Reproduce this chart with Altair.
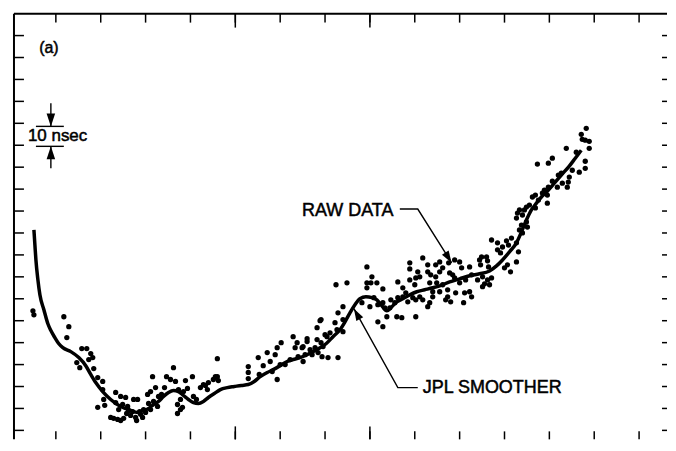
import altair as alt
import pandas as pd

# x: days after the first tick mark (ticks every 45 days); y: clock offset in nsec
raw_early = [(-23,64.5),(-22,62.7),(8,61.8),(13,57.3),(11,52.3),(26,47.3),(31,47.3),(35,45.0),(37,43.2),
    (33,42.3),(21,40.9),(24,38.6),(38,38.2),(42,34.1),(47,32.3),(47,28.6),(48,24.1),(42,20.5),(49,21.4),
    (60,27.3),(65,25.5),(70,25.0),(60,22.7),(55,15.9),(58,15.5),(62,15.0),(65,14.5),(68,15.5),(72,20.9),
    (78,24.1),(82,24.1),(77,18.6),(80,15.9),(81,14.5),(85,17.3),(88,19.5),(92,26.4),(95,27.7),(97,34.5),
    (100,29.5),(102,20.9),(98,23.2),(93,22.3),(90,18.2),(73,19.1),(67,21.8),(63,19.5),(71,17.7),(75,16.8),
    (84,18.6),(87,15.9),(95,19.5),(103,25.5),(106,26.4)]
raw_dip = [(111,34.5),(115,33.2),(118,38.6),(120,32.3),(109,29.5),(123,28.6),(128,27.7),(132,29.1),
    (130,32.7),(125,24.1),(127,20.5),(122,21.8),(122,17.7),(125,19.5),(137,34.5),(138,25.5),(141,24.1),
    (145,29.5),(148,30.9),(153,31.8),(150,30.5),(152,28.6),(158,33.2),(162,34.5),(163,32.7),(160,34.5),
    (162,42.7)]
raw_rise = [(193,39.1),(193,36.4),(193,33.6),(203,43.2),(204,35.5),(208,39.5),(212,45.5),(215,41.4),
    (217,36.8),(220,44.5),(222,47.7),(226,50.0),(222,33.2),(225,40.0),(238,52.7),(240,47.7),(242,50.0),
    (247,47.7),(252,50.5),(248,41.4),(257,44.5),(262,56.8),(265,60.0),(262,51.4),(263,45.5),(266,50.0),
    (270,53.6),(275,54.5),(273,43.2),(267,43.6),(280,59.1),(283,63.6),(230,40.0),(235,42.3),(243,43.6),
    (250,44.5),(255,46.8),(260,47.7),(268,48.2),(252,51.8),(248,48.2)]
raw_bump = [(282,55.9),(288,66.4),(288,60.5),(288,55.0),(292,77.3),(281,76.4),(307,68.2),(312,84.5),
    (317,80.0),(312,77.3),(316,77.3),(322,77.3),(312,75.0),(328,74.5),(315,66.4),(319,70.5),(323,67.3),
    (323,59.5),(328,57.3),(330,65.9),(335,65.9),(336,69.5),(343,70.5),(340,68.2),(328,68.2),(332,61.8),
    (342,61.8),(343,77.7),(283,43.2),(266,60.5),(272,52.7)]
raw_plateau = [(348,75.0),(348,70.9),(347,61.4),(351,72.7),(353,68.6),(355,86.4),(355,83.6),(355,78.6),
    (358,70.5),(360,76.4),(361,79.5),(361,69.5),(361,61.8),(363,82.3),(365,80.0),(365,70.9),(368,88.6),
    (368,69.5),(373,85.5),(373,82.3),(373,66.4),(376,80.9),(378,73.2),(378,70.9),(381,85.5),(381,80.0),
    (382,77.3),(385,82.3),(385,73.2),(385,86.8),(388,84.1),(388,76.4),(391,69.5),(393,74.1),(393,70.9),
    (394,86.4),(395,81.8),(396,68.6),(398,80.9),(400,87.7),(400,79.5),(401,72.7),(405,86.8),(405,77.3),
    (375,77.3),(375,68.2)]
raw_loop = [(411,78.6),(407,84.1),(409,68.2),(410,72.7),(415,73.2),(415,84.5),(417,80.9),(417,70.9),
    (423,78.6),(425,87.7),(427,89.1),(432,89.1),(428,80.0),(428,75.5),(433,78.6),(433,87.3),(434,84.5),
    (435,76.4),(426,85.5),(437,96.8),(443,95.5),(443,92.3),(446,90.9),(448,93.6),(450,84.1),(452,96.4),
    (453,85.5),(454,94.5),(456,82.3),(457,97.7),(462,95.5),(462,86.8),(464,91.4),(437,79.5),(430,76.8)]
raw_late = [(462,106.8),(463,109.1),(465,110.5),(465,101.4),(467,103.6),(468,108.2),(468,100.0),
    (470,110.5),(472,111.8),(472,105.0),(473,102.7),(475,112.7),(478,116.4),(481,117.3),(481,111.4),
    (483,131.4),(484,115.0),(488,118.2),(490,119.5),(493,117.3),(493,113.6),(494,131.8),(498,134.1),
    (494,120.9),(498,123.6),(503,120.9),(504,126.4),(508,122.7),(512,138.6),(513,120.9),(514,123.2),
    (515,125.5),(518,128.6),(522,136.8),(525,127.7),(527,145.0),(528,142.7),(531,142.3),(535,141.8),
    (531,132.7),(531,129.5),(532,147.7),(535,138.6),(507,127.3)]

smooth_days = [-22,-21,-20,-18,-16,-12,-8,-5,-1,3,7,15,23,30,35,40,47,55,65,75,82,88,93,98,103,108,113,
    118,123,128,133,138,143,148,153,159,165,172,179,186,193,199,205,212,218,225,232,238,245,252,258,265,
    271,278,285,290,295,300,305,311,317,322,327,332,337,342,348,355,362,370,378,385,395,405,415,425,435,
    442,448,455,462,467,472,477,482,487,492,500,507,515,521,527]
smooth_nsec = [101.4,94.5,87.7,78.6,71.8,65.0,58.6,55.5,52.3,49.5,47.7,45.9,43.2,39.5,35.5,31.8,27.7,
    24.1,20.9,19.1,18.2,19.1,20.0,21.8,23.2,25.5,27.3,28.2,27.7,25.9,24.1,22.7,22.3,23.2,25.0,26.8,28.6,
    29.5,30.0,30.5,30.9,32.3,34.5,36.4,37.7,39.5,41.4,42.3,43.2,44.5,45.9,47.7,49.5,52.7,55.9,59.5,63.6,
    67.3,70.0,70.9,70.5,69.5,66.8,64.5,66.4,68.6,70.0,71.8,73.2,74.1,75.0,75.9,77.7,79.1,80.5,81.4,82.7,
    85.0,87.7,91.4,95.5,100.5,105.9,110.5,113.6,116.4,118.6,122.7,126.4,130.5,134.1,137.7]

x_ticks = [0, 45, 90, 135, 180, 225, 270, 315, 360, 405, 450, 495, 540, 585]
x_long_ticks = [180, 315]
y_ticks = [10, 20, 30, 40, 50, 60, 70, 80, 90, 100, 110, 120, 130, 140, 150, 160, 170, 180, 190]

# annotations
labels = ["(a)", "10 nsec", "RAW DATA", "JPL SMOOTHER"]
label_days = [-7, -28, 247, 368]
label_nsec = [184.1, 144.1, 110.0, 29.5]
label_align = ["center", "left", "left", "left"]
label_size = [16, 17, 18, 18]

raw_leader = [(345, 110.9), (363, 110.9), (397, 86.4)]
jpl_leader = [(299, 65.5), (343, 29.5), (363, 29.5)]
bar_days = [-20, 8]
bar_nsec = [148.6, 139.5]
bar_arrow_top = [(-5, 159.1), (-5, 148.6)]
bar_arrow_bottom = [(-5, 129.5), (-5, 139.5)]
arrow_tips = [(397, 86.4, 147.8, 576), (299, 65.5, 330.9, 576), (-5, 148.6, 180, 676), (-5, 139.5, 0, 676)]

W, H = 655, 427
xs = alt.Scale(domain=[-42, 613], nice=False, zero=False)
ys = alt.Scale(domain=[5.91, 200], nice=False, zero=False)
X = lambda f: alt.X(f, type="quantitative", scale=xs, axis=None)
Y = lambda f: alt.Y(f, type="quantitative", scale=ys, axis=None)

raw = pd.DataFrame(raw_early + raw_dip + raw_rise + raw_bump + raw_plateau + raw_loop + raw_late,
                   columns=["day", "nsec"])
smooth = pd.DataFrame({"day": smooth_days, "nsec": smooth_nsec})

points = alt.Chart(raw).mark_circle(size=28, color="black", opacity=1).encode(x=X("day"), y=Y("nsec"))
line = alt.Chart(smooth).mark_line(color="black", strokeWidth=3.5, interpolate="monotone").encode(
    x=X("day"), y=Y("nsec"))

seg_rows = []
for i, seg in enumerate([raw_leader, jpl_leader, bar_arrow_top, bar_arrow_bottom,
                         [(bar_days[0], bar_nsec[0]), (bar_days[1], bar_nsec[0])],
                         [(bar_days[0], bar_nsec[1]), (bar_days[1], bar_nsec[1])]]):
    for j, (d, n) in enumerate(seg):
        seg_rows.append({"seg": i, "order": j, "day": d, "nsec": n})
segs = alt.Chart(pd.DataFrame(seg_rows)).mark_line(color="black", strokeWidth=1.4).encode(
    x=X("day"), y=Y("nsec"), detail="seg:N", order="order:Q")

tips = pd.DataFrame(arrow_tips, columns=["day", "nsec", "angle", "size"])
heads = alt.Chart(tips).mark_point(shape="M0,0 L0.33,1 L-0.33,1 Z", filled=True, color="black",
                                   opacity=1, strokeWidth=0).encode(
    x=X("day"), y=Y("nsec"), angle=alt.Angle("angle:Q", scale=None), size=alt.Size("size:Q", scale=None))

texts = []
for t, d, n, a, s in zip(labels, label_days, label_nsec, label_align, label_size):
    df = pd.DataFrame({"text": [t], "day": [d], "nsec": [n]})
    texts.append(alt.Chart(df).mark_text(
        align=a, baseline="middle", font="Liberation Sans", fontSize=s, color="black",
        stroke="black", strokeWidth=0.5
    ).encode(x=X("day"), y=Y("nsec"), text="text:N"))

ytk = pd.DataFrame({"v": y_ticks})
xtk = pd.DataFrame({"v": x_ticks})
xlt = pd.DataFrame({"v": x_long_ticks})
tk = dict(color="black", strokeWidth=1.5)
frame_top = alt.Chart(ytk.head(1)).mark_rule(color="black", strokeWidth=2).encode(
    x=alt.value(0), x2=alt.value(W), y=alt.value(0))
frame_left = alt.Chart(ytk.head(1)).mark_rule(color="black", strokeWidth=2).encode(
    x=alt.value(0), y=alt.value(0), y2=alt.value(H))
left_t = alt.Chart(ytk).mark_rule(**tk).encode(y=Y("v"), x=alt.value(0), x2=alt.value(10))
right_t = alt.Chart(ytk).mark_rule(**tk).encode(y=Y("v"), x=alt.value(W - 5), x2=alt.value(W))
top_t = alt.Chart(xtk).mark_rule(**tk).encode(x=X("v"), y=alt.value(0), y2=alt.value(9))
top_l = alt.Chart(xlt).mark_rule(**tk).encode(x=X("v"), y=alt.value(0), y2=alt.value(14))
bot_t = alt.Chart(xtk).mark_rule(**tk).encode(x=X("v"), y=alt.value(H), y2=alt.value(H - 8))
bot_l = alt.Chart(xlt).mark_rule(**tk).encode(x=X("v"), y=alt.value(H), y2=alt.value(H - 13))

chart = alt.layer(frame_top, frame_left, left_t, right_t, top_t, top_l, bot_t, bot_l,
                  line, points, segs, heads, *texts).properties(
    width=W, height=H, padding={"left": 5, "top": 4, "right": 0, "bottom": 0}, background="white"
).configure_view(strokeWidth=0, stroke=None)

chart.save("out.html", embed_options={"renderer": "svg", "actions": False})
